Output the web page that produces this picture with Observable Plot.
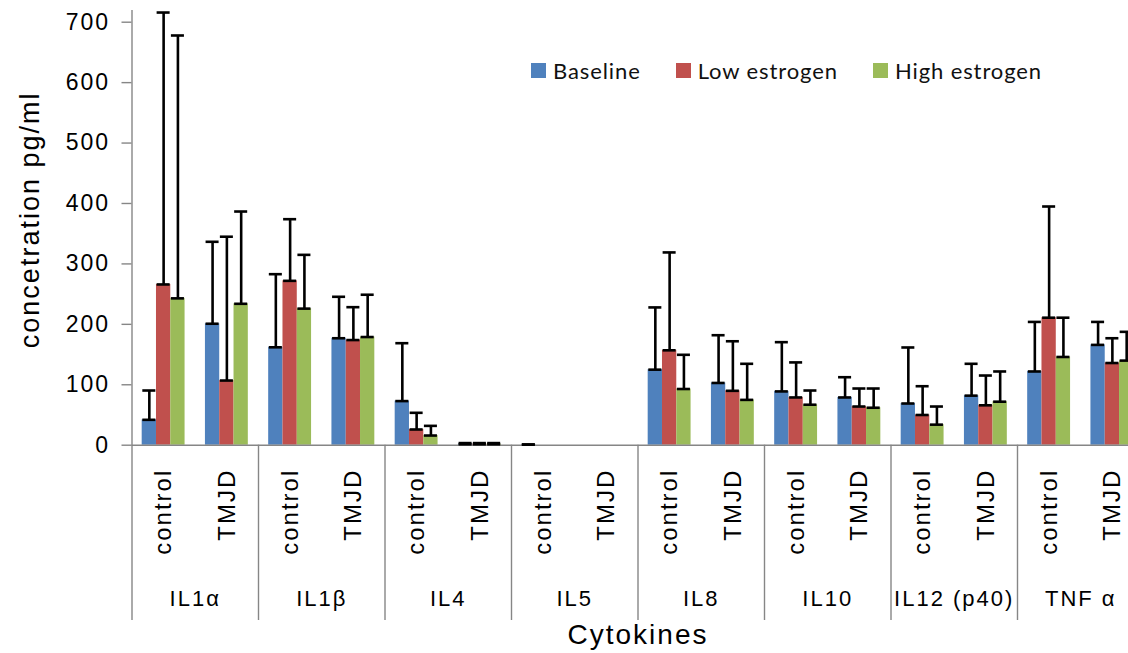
<!DOCTYPE html>
<html>
<head>
<meta charset="utf-8">
<script src="https://cdn.jsdelivr.net/npm/d3@7"></script>
<script src="https://cdn.jsdelivr.net/npm/@observablehq/plot@0.6"></script>
<style>
  html, body { margin: 0; padding: 0; background: #fff; overflow: hidden; }
  #wrap { position: relative; width: 1128px; height: 653px; overflow: hidden; background: #fff; }
  #chart svg text { letter-spacing: 2px; }
  #legend { position: absolute; left: 531px; top: 57px; display: flex; align-items: center;
            font-family: Lato, "Open Sans", sans-serif; font-size: 22px; letter-spacing: 0.9px; color: #111; }
  #legend .item { display: flex; align-items: center; margin-right: 35px; }
  #legend .sw { width: 15px; height: 15px; margin-right: 7px; }
</style>
</head>
<body>
<div id="wrap">
  <div id="chart"></div>
  <div id="legend"></div>
</div>
<script>
// ---- data ----
const cytokines = ["IL1α", "IL1β", "IL4", "IL5", "IL8", "IL10", "IL12 (p40)", "TNF α"];
const groups = ["control", "TMJD"];
const seriesNames = ["Baseline", "Low estrogen", "High estrogen"];
const seriesColors = ["#4F81BD", "#C0504D", "#9BBB59"];

// values in slot order: IL1α control, IL1α TMJD, IL1β control, ... TNF α TMJD (null = no bar)
const baseline     = [42, 201, 162, 177, 73, 1.5, 0.8, null, 125, 103, 89, 79, 69, 82, 122, 166];
const baselineErr  = [48.5, 135.6, 121, 68.6, 95.8, 2, 0.5, null, 103, 79, 81.5, 33.5, 92.7, 52.7, 82, 38];
const lowEstrogen    = [266, 107, 272, 174, 26, 1.5, null, null, 157, 90, 79, 64, 50, 66, 211, 136];
const lowEstrogenErr = [450, 238, 102, 54.4, 27.6, 2, null, null, 162, 82, 58, 29.8, 47.6, 49.3, 184, 41];
const highEstrogen    = [243, 234, 226, 179, 16, 1.5, null, null, 93, 75, 67, 62, 34, 72, 146, 140];
const highEstrogenErr = [435, 152.7, 89, 70, 16, 2, null, null, 56.6, 59.7, 23.5, 31.8, 30, 50, 65, 47.6];

const yTicks = [0, 100, 200, 300, 400, 500, 600, 700];
const yTitle = "concetration pg/ml";
const xTitle = "Cytokines";

// ---- build table ----
const slots = cytokines.flatMap(c => groups.map(g => ({cytokine: c, group: g})));
const seriesValues = [baseline, lowEstrogen, highEstrogen];
const seriesErrors = [baselineErr, lowEstrogenErr, highEstrogenErr];
const barW = 0.226, barPad = (1 - 3 * barW) / 2, capHalf = 0.103;
const rows = [];
seriesValues.forEach((vals, s) => vals.forEach((v, i) => {
  if (v == null) return;
  const x1 = i + barPad + s * barW;
  rows.push({series: seriesNames[s], x1, x2: x1 + barW, xc: x1 + barW / 2, value: v, top: v + seriesErrors[s][i]});
}));
const bounds = d3.range(0, slots.length + 1, 2);
const axisGray = "#868686";

const chart = Plot.plot({
  width: 1128,
  height: 653,
  marginTop: 10,
  marginBottom: 208.3,
  marginLeft: 131.5,
  marginRight: 0,
  style: {fontFamily: "'Liberation Sans', Arial, sans-serif", color: "black", background: "white"},
  x: {type: "linear", domain: [0, slots.length], range: [131.5, 131.5 + slots.length * 63.25], axis: null},
  y: {domain: [0, 700], range: [444.7, 21.7], label: null},
  color: {domain: seriesNames, range: seriesColors},
  marks: [
    Plot.rect(rows, {x1: "x1", x2: "x2", y1: 0, y2: "value", fill: "series"}),
    Plot.ruleY([0], {stroke: axisGray, strokeWidth: 1.4}),
    Plot.ruleX([0], {x: d => d, stroke: axisGray, strokeWidth: 1.4, insetBottom: -175.3}),
    Plot.ruleX(bounds.slice(1), {x: d => d, stroke: axisGray, strokeWidth: 1.4, insetTop: 434.7, insetBottom: -175.3}),
    Plot.ruleX(rows, {x: "xc", y1: "value", y2: "top", stroke: "black", strokeWidth: 2.6}),
    Plot.ruleY(rows, {y: "top", x1: d => d.xc - capHalf, x2: d => d.xc + capHalf, stroke: "black", strokeWidth: 2.6}),
    Plot.ruleY(rows, {y: "value", x1: d => d.xc - capHalf, x2: d => d.xc + capHalf, stroke: "black", strokeWidth: 2.6}),
    Plot.axisY(yTicks, {anchor: "left", tickSize: 10, tickPadding: 12, fontSize: 23, fill: "black", stroke: axisGray, strokeWidth: 1.4, label: null}),
    Plot.text([yTitle], {frameAnchor: "left", textAnchor: "middle", rotate: -90, dx: -102, dy: -8, fontSize: 27}),
    Plot.text(slots, {x: (d, i) => i + 0.5, text: "group", frameAnchor: "bottom", rotate: -90, textAnchor: "end", lineAnchor: "middle", dy: 23.5, fontSize: 24}),
    Plot.text(cytokines, {x: (d, i) => i * 2 + 1, text: d => d, frameAnchor: "bottom", lineAnchor: "middle", dy: 154, fontSize: 22}),
    Plot.text([xTitle], {x: () => slots.length / 2, text: d => d, frameAnchor: "bottom", lineAnchor: "middle", dy: 190, fontSize: 28})
  ]
});
document.getElementById("chart").append(chart);

// legend (inside plot area, as in the reference)
const legend = document.getElementById("legend");
seriesNames.forEach((name, i) => {
  const item = document.createElement("div");
  item.className = "item";
  const sw = document.createElement("span");
  sw.className = "sw";
  sw.style.background = seriesColors[i];
  const label = document.createElement("span");
  label.textContent = name;
  item.append(sw, label);
  legend.append(item);
});
</script>
</body>
</html>
